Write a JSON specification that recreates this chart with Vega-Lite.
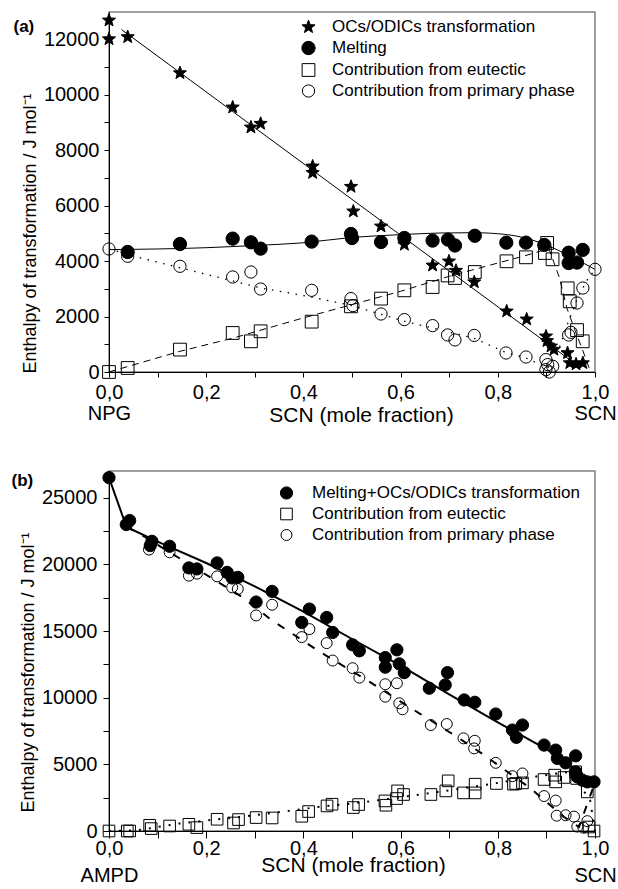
{
  "$schema": "https://vega.github.io/schema/vega-lite/v6.json",
  "background": "white",
  "padding": {"left": 10, "top": 10, "right": 0, "bottom": 0},
  "config": {
    "font": "Liberation Sans",
    "view": {"stroke": "#808080", "strokeWidth": 1.5},
    "axis": {"grid": false, "domainColor": "black", "domainWidth": 1, "tickColor": "black", "tickWidth": 1, "labelColor": "black", "titleColor": "black", "labelFont": "Liberation Sans", "titleFont": "Liberation Sans", "labelFontSize": 20, "titleFontWeight": "normal", "labelFlush": false, "labelOverlap": false, "labelBound": false},
    "legend": {"labelFont": "Liberation Sans", "labelFontSize": 17, "labelColor": "black", "labelLimit": 500, "padding": 0, "rowPadding": 3, "labelOffset": 17, "symbolStrokeWidth": 1}
  },
  "spacing": 42,
  "resolve": {
    "scale": {"x": "independent", "y": "independent", "shape": "independent", "fill": "independent", "stroke": "independent", "size": "independent"},
    "legend": {"shape": "independent", "fill": "independent", "stroke": "independent", "size": "independent"}
  },
  "datasets": {
    "aPts": [
      {"series": "OCs/ODICs transformation", "x": 0, "y": 12675},
      {"series": "OCs/ODICs transformation", "x": 0, "y": 12000},
      {"series": "OCs/ODICs transformation", "x": 0.0385, "y": 12074},
      {"series": "OCs/ODICs transformation", "x": 0.146, "y": 10776},
      {"series": "OCs/ODICs transformation", "x": 0.2545, "y": 9540},
      {"series": "OCs/ODICs transformation", "x": 0.292, "y": 8819},
      {"series": "OCs/ODICs transformation", "x": 0.312, "y": 8952},
      {"series": "OCs/ODICs transformation", "x": 0.419, "y": 7413},
      {"series": "OCs/ODICs transformation", "x": 0.419, "y": 7180},
      {"series": "OCs/ODICs transformation", "x": 0.498, "y": 6680},
      {"series": "OCs/ODICs transformation", "x": 0.5027, "y": 5792},
      {"series": "OCs/ODICs transformation", "x": 0.5597, "y": 5251},
      {"series": "OCs/ODICs transformation", "x": 0.6077, "y": 4591},
      {"series": "OCs/ODICs transformation", "x": 0.6658, "y": 3845},
      {"series": "OCs/ODICs transformation", "x": 0.6995, "y": 3990},
      {"series": "OCs/ODICs transformation", "x": 0.714, "y": 3654},
      {"series": "OCs/ODICs transformation", "x": 0.7516, "y": 3240},
      {"series": "OCs/ODICs transformation", "x": 0.8183, "y": 2188},
      {"series": "OCs/ODICs transformation", "x": 0.8594, "y": 1900},
      {"series": "OCs/ODICs transformation", "x": 0.8992, "y": 1287},
      {"series": "OCs/ODICs transformation", "x": 0.9012, "y": 1120},
      {"series": "OCs/ODICs transformation", "x": 0.9095, "y": 926},
      {"series": "OCs/ODICs transformation", "x": 0.9155, "y": 807},
      {"series": "OCs/ODICs transformation", "x": 0.9435, "y": 685},
      {"series": "OCs/ODICs transformation", "x": 0.9482, "y": 324},
      {"series": "OCs/ODICs transformation", "x": 0.961, "y": 280},
      {"series": "OCs/ODICs transformation", "x": 0.975, "y": 324},
      {"series": "Melting", "x": 0.0384, "y": 4325},
      {"series": "Melting", "x": 0.146, "y": 4613},
      {"series": "Melting", "x": 0.2545, "y": 4807},
      {"series": "Melting", "x": 0.292, "y": 4674},
      {"series": "Melting", "x": 0.312, "y": 4447},
      {"series": "Melting", "x": 0.417, "y": 4700},
      {"series": "Melting", "x": 0.4979, "y": 4974},
      {"series": "Melting", "x": 0.5, "y": 4829},
      {"series": "Melting", "x": 0.5597, "y": 4685},
      {"series": "Melting", "x": 0.6077, "y": 4829},
      {"series": "Melting", "x": 0.6658, "y": 4736},
      {"series": "Melting", "x": 0.6975, "y": 4772},
      {"series": "Melting", "x": 0.7119, "y": 4560},
      {"series": "Melting", "x": 0.7527, "y": 4910},
      {"series": "Melting", "x": 0.8175, "y": 4662},
      {"series": "Melting", "x": 0.858, "y": 4662},
      {"series": "Melting", "x": 0.8956, "y": 4580},
      {"series": "Melting", "x": 0.9458, "y": 4300},
      {"series": "Melting", "x": 0.9747, "y": 4400},
      {"series": "Melting", "x": 0.9458, "y": 3928},
      {"series": "Melting", "x": 0.963, "y": 3945},
      {"series": "Contribution from eutectic", "x": 0, "y": 0},
      {"series": "Contribution from eutectic", "x": 0.0384, "y": 144},
      {"series": "Contribution from eutectic", "x": 0.146, "y": 807},
      {"series": "Contribution from eutectic", "x": 0.2545, "y": 1406},
      {"series": "Contribution from eutectic", "x": 0.292, "y": 1106},
      {"series": "Contribution from eutectic", "x": 0.312, "y": 1467},
      {"series": "Contribution from eutectic", "x": 0.417, "y": 1815},
      {"series": "Contribution from eutectic", "x": 0.498, "y": 2368},
      {"series": "Contribution from eutectic", "x": 0.5597, "y": 2645},
      {"series": "Contribution from eutectic", "x": 0.6077, "y": 2944},
      {"series": "Contribution from eutectic", "x": 0.6658, "y": 3063},
      {"series": "Contribution from eutectic", "x": 0.6967, "y": 3480},
      {"series": "Contribution from eutectic", "x": 0.7119, "y": 3388},
      {"series": "Contribution from eutectic", "x": 0.7527, "y": 3604},
      {"series": "Contribution from eutectic", "x": 0.818, "y": 3990},
      {"series": "Contribution from eutectic", "x": 0.858, "y": 4134},
      {"series": "Contribution from eutectic", "x": 0.9015, "y": 4650},
      {"series": "Contribution from eutectic", "x": 0.897, "y": 4289},
      {"series": "Contribution from eutectic", "x": 0.9126, "y": 4062},
      {"series": "Contribution from eutectic", "x": 0.9438, "y": 3015},
      {"series": "Contribution from eutectic", "x": 0.948, "y": 2548},
      {"series": "Contribution from eutectic", "x": 0.963, "y": 1510},
      {"series": "Contribution from eutectic", "x": 0.9747, "y": 1106},
      {"series": "Contribution from primary phase", "x": 0, "y": 4434},
      {"series": "Contribution from primary phase", "x": 0.0384, "y": 4170},
      {"series": "Contribution from primary phase", "x": 0.146, "y": 3810},
      {"series": "Contribution from primary phase", "x": 0.2545, "y": 3424},
      {"series": "Contribution from primary phase", "x": 0.292, "y": 3604},
      {"series": "Contribution from primary phase", "x": 0.312, "y": 2991},
      {"series": "Contribution from primary phase", "x": 0.417, "y": 2944},
      {"series": "Contribution from primary phase", "x": 0.4979, "y": 2645},
      {"series": "Contribution from primary phase", "x": 0.502, "y": 2393},
      {"series": "Contribution from primary phase", "x": 0.5597, "y": 2090},
      {"series": "Contribution from primary phase", "x": 0.6077, "y": 1889},
      {"series": "Contribution from primary phase", "x": 0.6658, "y": 1672},
      {"series": "Contribution from primary phase", "x": 0.6967, "y": 1335},
      {"series": "Contribution from primary phase", "x": 0.7119, "y": 1155},
      {"series": "Contribution from primary phase", "x": 0.7516, "y": 1318},
      {"series": "Contribution from primary phase", "x": 0.8169, "y": 685},
      {"series": "Contribution from primary phase", "x": 0.858, "y": 541},
      {"series": "Contribution from primary phase", "x": 0.899, "y": 447},
      {"series": "Contribution from primary phase", "x": 0.9027, "y": 267},
      {"series": "Contribution from primary phase", "x": 0.913, "y": 205},
      {"series": "Contribution from primary phase", "x": 0.899, "y": 86},
      {"series": "Contribution from primary phase", "x": 0.906, "y": 0},
      {"series": "Contribution from primary phase", "x": 0.9458, "y": 1335},
      {"series": "Contribution from primary phase", "x": 0.9506, "y": 1431},
      {"series": "Contribution from primary phase", "x": 0.963, "y": 2487},
      {"series": "Contribution from primary phase", "x": 0.975, "y": 3027},
      {"series": "Contribution from primary phase", "x": 1.0, "y": 3700}
    ],
    "aLines": [
      {"s": "oc", "x": 0.026, "y": 12340}, {"s": "oc", "x": 0.971, "y": 144},
      {"s": "m", "x": 0, "y": 4411}, {"s": "m", "x": 0.2, "y": 4480}, {"s": "m", "x": 0.3, "y": 4560}, {"s": "m", "x": 0.395, "y": 4650}, {"s": "m", "x": 0.5, "y": 4850}, {"s": "m", "x": 0.6, "y": 4950}, {"s": "m", "x": 0.683, "y": 5010}, {"s": "m", "x": 0.75, "y": 5020}, {"s": "m", "x": 0.82, "y": 4950}, {"s": "m", "x": 0.889, "y": 4650}, {"s": "m", "x": 0.956, "y": 4110}, {"s": "m", "x": 1.0, "y": 3700},
      {"s": "e", "x": 0, "y": 0}, {"s": "e", "x": 0.146, "y": 746}, {"s": "e", "x": 0.256, "y": 1225}, {"s": "e", "x": 0.4, "y": 1950}, {"s": "e", "x": 0.5, "y": 2430}, {"s": "e", "x": 0.6, "y": 2908}, {"s": "e", "x": 0.7, "y": 3449}, {"s": "e", "x": 0.8, "y": 3928}, {"s": "e", "x": 0.858, "y": 4200}, {"s": "e", "x": 0.905, "y": 4450}, {"s": "e", "x": 0.927, "y": 3390}, {"s": "e", "x": 0.942, "y": 2310}, {"s": "e", "x": 0.96, "y": 1450}, {"s": "e", "x": 0.978, "y": 630}, {"s": "e", "x": 0.988, "y": 140},
      {"s": "p", "x": 0, "y": 4434}, {"s": "p", "x": 0.052, "y": 4170}, {"s": "p", "x": 0.189, "y": 3568}, {"s": "p", "x": 0.313, "y": 3027}, {"s": "p", "x": 0.409, "y": 2728}, {"s": "p", "x": 0.498, "y": 2400}, {"s": "p", "x": 0.608, "y": 1830}, {"s": "p", "x": 0.75, "y": 1225}, {"s": "p", "x": 0.817, "y": 700}, {"s": "p", "x": 0.858, "y": 505}, {"s": "p", "x": 0.903, "y": 144}, {"s": "p", "x": 0.925, "y": 800}, {"s": "p", "x": 0.945, "y": 1800}, {"s": "p", "x": 0.965, "y": 2700}, {"s": "p", "x": 0.985, "y": 3350}, {"s": "p", "x": 1.0, "y": 3690}
    ],
    "bPts": [
      {"series": "Melting+OCs/ODICs transformation", "x": 0, "y": 26500},
      {"series": "Melting+OCs/ODICs transformation", "x": 0.0356, "y": 22985},
      {"series": "Melting+OCs/ODICs transformation", "x": 0.0425, "y": 23286},
      {"series": "Melting+OCs/ODICs transformation", "x": 0.0849, "y": 21406},
      {"series": "Melting+OCs/ODICs transformation", "x": 0.0884, "y": 21730},
      {"series": "Melting+OCs/ODICs transformation", "x": 0.1247, "y": 21354},
      {"series": "Melting+OCs/ODICs transformation", "x": 0.1644, "y": 19730},
      {"series": "Melting+OCs/ODICs transformation", "x": 0.1808, "y": 19655},
      {"series": "Melting+OCs/ODICs transformation", "x": 0.2225, "y": 20106},
      {"series": "Melting+OCs/ODICs transformation", "x": 0.2431, "y": 19399},
      {"series": "Melting+OCs/ODICs transformation", "x": 0.2534, "y": 18977},
      {"series": "Melting+OCs/ODICs transformation", "x": 0.2651, "y": 19024},
      {"series": "Melting+OCs/ODICs transformation", "x": 0.3027, "y": 17173},
      {"series": "Melting+OCs/ODICs transformation", "x": 0.3356, "y": 17971},
      {"series": "Melting+OCs/ODICs transformation", "x": 0.3966, "y": 15640},
      {"series": "Melting+OCs/ODICs transformation", "x": 0.4124, "y": 16646},
      {"series": "Melting+OCs/ODICs transformation", "x": 0.4479, "y": 16015},
      {"series": "Melting+OCs/ODICs transformation", "x": 0.4602, "y": 14888},
      {"series": "Melting+OCs/ODICs transformation", "x": 0.5013, "y": 13963},
      {"series": "Melting+OCs/ODICs transformation", "x": 0.5151, "y": 13512},
      {"series": "Melting+OCs/ODICs transformation", "x": 0.5685, "y": 13008},
      {"series": "Melting+OCs/ODICs transformation", "x": 0.5924, "y": 13587},
      {"series": "Melting+OCs/ODICs transformation", "x": 0.5685, "y": 12286},
      {"series": "Melting+OCs/ODICs transformation", "x": 0.5973, "y": 12534},
      {"series": "Melting+OCs/ODICs transformation", "x": 0.6076, "y": 11880},
      {"series": "Melting+OCs/ODICs transformation", "x": 0.659, "y": 10707},
      {"series": "Melting+OCs/ODICs transformation", "x": 0.6918, "y": 10955},
      {"series": "Melting+OCs/ODICs transformation", "x": 0.6965, "y": 11880},
      {"series": "Melting+OCs/ODICs transformation", "x": 0.7308, "y": 9827},
      {"series": "Melting+OCs/ODICs transformation", "x": 0.7526, "y": 9654},
      {"series": "Melting+OCs/ODICs transformation", "x": 0.7958, "y": 8775},
      {"series": "Melting+OCs/ODICs transformation", "x": 0.8301, "y": 7572},
      {"series": "Melting+OCs/ODICs transformation", "x": 0.8507, "y": 7948},
      {"series": "Melting+OCs/ODICs transformation", "x": 0.8383, "y": 7023},
      {"series": "Melting+OCs/ODICs transformation", "x": 0.8952, "y": 6444},
      {"series": "Melting+OCs/ODICs transformation", "x": 0.9191, "y": 6068},
      {"series": "Melting+OCs/ODICs transformation", "x": 0.9225, "y": 5444},
      {"series": "Melting+OCs/ODICs transformation", "x": 0.9396, "y": 5113},
      {"series": "Melting+OCs/ODICs transformation", "x": 0.9602, "y": 5639},
      {"series": "Melting+OCs/ODICs transformation", "x": 0.96, "y": 4436},
      {"series": "Melting+OCs/ODICs transformation", "x": 0.9636, "y": 4060},
      {"series": "Melting+OCs/ODICs transformation", "x": 0.9739, "y": 3812},
      {"series": "Melting+OCs/ODICs transformation", "x": 0.9842, "y": 3684},
      {"series": "Melting+OCs/ODICs transformation", "x": 0.998, "y": 3684},
      {"series": "Contribution from eutectic", "x": 0, "y": 0},
      {"series": "Contribution from eutectic", "x": 0.0376, "y": 0},
      {"series": "Contribution from eutectic", "x": 0.0425, "y": 0},
      {"series": "Contribution from eutectic", "x": 0.0836, "y": 429},
      {"series": "Contribution from eutectic", "x": 0.0869, "y": 180},
      {"series": "Contribution from eutectic", "x": 0.1247, "y": 376},
      {"series": "Contribution from eutectic", "x": 0.1644, "y": 504},
      {"series": "Contribution from eutectic", "x": 0.1808, "y": 255},
      {"series": "Contribution from eutectic", "x": 0.2225, "y": 880},
      {"series": "Contribution from eutectic", "x": 0.2562, "y": 602},
      {"series": "Contribution from eutectic", "x": 0.2665, "y": 857},
      {"series": "Contribution from eutectic", "x": 0.3027, "y": 1008},
      {"series": "Contribution from eutectic", "x": 0.3356, "y": 978},
      {"series": "Contribution from eutectic", "x": 0.3966, "y": 1105},
      {"series": "Contribution from eutectic", "x": 0.4107, "y": 1460},
      {"series": "Contribution from eutectic", "x": 0.4486, "y": 1880},
      {"series": "Contribution from eutectic", "x": 0.4589, "y": 2008},
      {"series": "Contribution from eutectic", "x": 0.5027, "y": 1760},
      {"series": "Contribution from eutectic", "x": 0.5137, "y": 1985},
      {"series": "Contribution from eutectic", "x": 0.5678, "y": 2256},
      {"series": "Contribution from eutectic", "x": 0.5698, "y": 1932},
      {"series": "Contribution from eutectic", "x": 0.5938, "y": 3008},
      {"series": "Contribution from eutectic", "x": 0.5917, "y": 2436},
      {"series": "Contribution from eutectic", "x": 0.6061, "y": 2737},
      {"series": "Contribution from eutectic", "x": 0.6623, "y": 2737},
      {"series": "Contribution from eutectic", "x": 0.6979, "y": 3760},
      {"series": "Contribution from eutectic", "x": 0.6931, "y": 3008},
      {"series": "Contribution from eutectic", "x": 0.7294, "y": 2857},
      {"series": "Contribution from eutectic", "x": 0.7534, "y": 3511},
      {"series": "Contribution from eutectic", "x": 0.7534, "y": 2857},
      {"series": "Contribution from eutectic", "x": 0.7972, "y": 3564},
      {"series": "Contribution from eutectic", "x": 0.8322, "y": 3511},
      {"series": "Contribution from eutectic", "x": 0.8369, "y": 3564},
      {"series": "Contribution from eutectic", "x": 0.8507, "y": 3609},
      {"series": "Contribution from eutectic", "x": 0.8952, "y": 3865},
      {"series": "Contribution from eutectic", "x": 0.917, "y": 4188},
      {"series": "Contribution from eutectic", "x": 0.9191, "y": 3684},
      {"series": "Contribution from eutectic", "x": 0.9363, "y": 4015},
      {"series": "Contribution from eutectic", "x": 0.9602, "y": 4436},
      {"series": "Contribution from eutectic", "x": 0.9623, "y": 3940},
      {"series": "Contribution from eutectic", "x": 0.9842, "y": 2932},
      {"series": "Contribution from eutectic", "x": 0.9877, "y": 300},
      {"series": "Contribution from eutectic", "x": 0.998, "y": 0},
      {"series": "Contribution from primary phase", "x": 0.0822, "y": 21106},
      {"series": "Contribution from primary phase", "x": 0.1247, "y": 20903},
      {"series": "Contribution from primary phase", "x": 0.1644, "y": 19151},
      {"series": "Contribution from primary phase", "x": 0.1808, "y": 19301},
      {"series": "Contribution from primary phase", "x": 0.2225, "y": 19098},
      {"series": "Contribution from primary phase", "x": 0.2534, "y": 18271},
      {"series": "Contribution from primary phase", "x": 0.265, "y": 18150},
      {"series": "Contribution from primary phase", "x": 0.3027, "y": 16166},
      {"series": "Contribution from primary phase", "x": 0.3356, "y": 16970},
      {"series": "Contribution from primary phase", "x": 0.3966, "y": 14542},
      {"series": "Contribution from primary phase", "x": 0.4124, "y": 15143},
      {"series": "Contribution from primary phase", "x": 0.4479, "y": 14091},
      {"series": "Contribution from primary phase", "x": 0.4602, "y": 12783},
      {"series": "Contribution from primary phase", "x": 0.5013, "y": 12211},
      {"series": "Contribution from primary phase", "x": 0.5151, "y": 11504},
      {"series": "Contribution from primary phase", "x": 0.5685, "y": 11008},
      {"series": "Contribution from primary phase", "x": 0.5924, "y": 11083},
      {"series": "Contribution from primary phase", "x": 0.5685, "y": 10075},
      {"series": "Contribution from primary phase", "x": 0.5973, "y": 9579},
      {"series": "Contribution from primary phase", "x": 0.604, "y": 9128},
      {"series": "Contribution from primary phase", "x": 0.6622, "y": 7948},
      {"series": "Contribution from primary phase", "x": 0.695, "y": 8023},
      {"series": "Contribution from primary phase", "x": 0.7294, "y": 6948},
      {"series": "Contribution from primary phase", "x": 0.7526, "y": 6767},
      {"series": "Contribution from primary phase", "x": 0.7513, "y": 6196},
      {"series": "Contribution from primary phase", "x": 0.7958, "y": 5113},
      {"series": "Contribution from primary phase", "x": 0.8301, "y": 4113},
      {"series": "Contribution from primary phase", "x": 0.8507, "y": 4316},
      {"series": "Contribution from primary phase", "x": 0.8952, "y": 2620},
      {"series": "Contribution from primary phase", "x": 0.9191, "y": 2280},
      {"series": "Contribution from primary phase", "x": 0.9212, "y": 1150},
      {"series": "Contribution from primary phase", "x": 0.9396, "y": 1180},
      {"series": "Contribution from primary phase", "x": 0.9568, "y": 1080},
      {"series": "Contribution from primary phase", "x": 0.9636, "y": 330},
      {"series": "Contribution from primary phase", "x": 0.976, "y": 256},
      {"series": "Contribution from primary phase", "x": 0.9842, "y": 740}
    ],
    "bLines": [
      {"s": "solid", "x": 0, "y": 26500}, {"s": "solid", "x": 0.036, "y": 22800}, {"s": "solid", "x": 0.1, "y": 21700}, {"s": "solid", "x": 0.2, "y": 20100}, {"s": "solid", "x": 0.3, "y": 18350}, {"s": "solid", "x": 0.4, "y": 16450}, {"s": "solid", "x": 0.5, "y": 14400}, {"s": "solid", "x": 0.6, "y": 12400}, {"s": "solid", "x": 0.7, "y": 10250}, {"s": "solid", "x": 0.8, "y": 8150}, {"s": "solid", "x": 0.9, "y": 6150}, {"s": "solid", "x": 0.95, "y": 4850}, {"s": "solid", "x": 1.0, "y": 3600},
      {"s": "dash", "x": 0.036, "y": 22800}, {"s": "dash", "x": 0.066, "y": 22233}, {"s": "dash", "x": 0.272, "y": 17594}, {"s": "dash", "x": 0.3335, "y": 15843}, {"s": "dash", "x": 0.4329, "y": 13459}, {"s": "dash", "x": 0.5356, "y": 11203}, {"s": "dash", "x": 0.6384, "y": 8827}, {"s": "dash", "x": 0.7103, "y": 7196}, {"s": "dash", "x": 0.772, "y": 5692}, {"s": "dash", "x": 0.8677, "y": 3188}, {"s": "dash", "x": 0.9363, "y": 1053}, {"s": "dash", "x": 0.9671, "y": 301}, {"s": "dash", "x": 1.0, "y": 3650},
      {"s": "dot", "x": 0, "y": 0}, {"s": "dot", "x": 0.06, "y": 60}, {"s": "dot", "x": 0.142, "y": 550}, {"s": "dot", "x": 0.203, "y": 800}, {"s": "dot", "x": 0.282, "y": 1100}, {"s": "dot", "x": 0.358, "y": 1450}, {"s": "dot", "x": 0.43, "y": 1800}, {"s": "dot", "x": 0.484, "y": 2000}, {"s": "dot", "x": 0.542, "y": 2250}, {"s": "dot", "x": 0.642, "y": 2740}, {"s": "dot", "x": 0.782, "y": 3500}, {"s": "dot", "x": 0.881, "y": 4100}, {"s": "dot", "x": 0.95, "y": 4450}, {"s": "dot", "x": 0.99, "y": 2300}, {"s": "dot", "x": 1.0, "y": 0}
    ]
  },
  "vconcat": [
    {
      "width": 486,
      "height": 360,
      "resolve": {"axis": {"x": "independent"}},
      "encoding": {
        "y": {"field": "y", "type": "quantitative", "scale": {"domain": [0, 12975], "nice": false, "zero": false},
          "axis": {"values": [0, 1000, 2000, 3000, 4000, 5000, 6000, 7000, 8000, 9000, 10000, 11000, 12000], "labelExpr": "datum.value % 2000 == 0 ? format(datum.value, 'd') : ''", "tickSize": 5, "labelPadding": 5, "title": "Enthalpy of transformation / J mol⁻¹", "titleFontSize": 18, "titleY": 221, "titlePadding": 4}}
      },
      "layer": [
        {"data": {"name": "aLines"}, "transform": [{"filter": "datum.s == 'oc'"}], "mark": {"type": "line", "color": "black", "strokeWidth": 1},
          "encoding": {"x": {"field": "x", "type": "quantitative", "scale": {"domain": [0, 1], "nice": false, "zero": false},
            "axis": {"orient": "top", "domain": false, "ticks": false, "labels": false, "minExtent": 0, "title": "(a)", "titleX": -96, "titleY": 19, "titleAngle": 0, "titleAlign": "left", "titleBaseline": "alphabetic", "titleFontSize": 17, "titleFontWeight": "bold"}}}},
        {"data": {"name": "aLines"}, "transform": [{"filter": "datum.s == 'm'"}], "mark": {"type": "line", "color": "black", "strokeWidth": 1, "interpolate": "monotone"},
          "encoding": {"x": {"field": "x", "type": "quantitative", "scale": {"domain": [0, 1], "nice": false, "zero": false}, "axis": null}}},
        {"data": {"name": "aLines"}, "transform": [{"filter": "datum.s == 'e'"}], "mark": {"type": "line", "color": "black", "strokeWidth": 1, "strokeDash": [7, 5]},
          "encoding": {"x": {"field": "x", "type": "quantitative", "scale": {"domain": [0, 1], "nice": false, "zero": false}, "axis": null}}},
        {"data": {"name": "aLines"}, "transform": [{"filter": "datum.s == 'p'"}], "mark": {"type": "line", "color": "black", "strokeWidth": 1.3, "strokeDash": [1.5, 6.5]},
          "encoding": {"x": {"field": "x", "type": "quantitative", "scale": {"domain": [0, 1], "nice": false, "zero": false}, "axis": null}}},
        {
          "data": {"name": "aPts"},
          "mark": {"type": "point", "opacity": 1, "strokeWidth": 1},
          "encoding": {
            "x": {"field": "x", "type": "quantitative", "scale": {"domain": [0, 1], "nice": false, "zero": false},
              "axis": {"values": [0, 0.1, 0.2, 0.3, 0.4, 0.5, 0.6, 0.7, 0.8, 0.9, 1], "labelExpr": "datum.value == 0 ? ['0,0', 'NPG'] : datum.value == 1 ? ['1,0', 'SCN'] : (round(datum.value * 10) % 2 == 0 ? replace(format(datum.value, '.1f'), '.', ',') : '')", "labelLineHeight": 21, "tickSize": 5, "labelPadding": 5, "title": "SCN (mole fraction)", "titleFontSize": 21, "titleX": 252, "titleY": 49, "titleBaseline": "alphabetic"}},
            "shape": {"field": "series", "type": "nominal", "scale": {"domain": ["OCs/ODICs transformation", "Melting", "Contribution from eutectic", "Contribution from primary phase"], "range": ["M0,-1L0.247,-0.34L0.951,-0.309L0.399,0.13L0.588,0.809L0,0.42L-0.588,0.809L-0.399,0.13L-0.951,-0.309L-0.247,-0.34Z", "circle", "square", "circle"]},
              "legend": {"title": null, "orient": "none", "legendX": 191, "legendY": 6.5, "labelFontSize": 17, "rowPadding": 3, "labelOffset": 15, "labelLimit": 500,
                "encode": {"symbols": {"update": {"size": {"signal": "datum.value === 'Melting' ? 140 : datum.value === 'Contribution from eutectic' ? 62 : datum.value === 'Contribution from primary phase' ? 75 : 115"}}}}}},
            "fill": {"field": "series", "type": "nominal", "scale": {"domain": ["OCs/ODICs transformation", "Melting", "Contribution from eutectic", "Contribution from primary phase"], "range": ["black", "black", "transparent", "transparent"]}},
            "stroke": {"field": "series", "type": "nominal", "scale": {"domain": ["OCs/ODICs transformation", "Melting", "Contribution from eutectic", "Contribution from primary phase"], "range": ["black", "black", "black", "black"]}},
            "size": {"field": "series", "type": "nominal", "scale": {"domain": ["OCs/ODICs transformation", "Melting", "Contribution from eutectic", "Contribution from primary phase"], "range": [190, 150, 115, 170]}}
          }
        }
      ]
    },
    {
      "width": 486,
      "height": 360,
      "resolve": {"axis": {"x": "independent"}},
      "encoding": {
        "y": {"field": "y", "type": "quantitative", "scale": {"domain": [0, 27000], "nice": false, "zero": false},
          "axis": {"values": [0, 2500, 5000, 7500, 10000, 12500, 15000, 17500, 20000, 22500, 25000], "labelExpr": "datum.value % 5000 == 0 ? format(datum.value, 'd') : ''", "tickSize": 6, "labelPadding": 6, "title": "Enthalpy of transformation / J mol⁻¹", "titleFontSize": 18, "titleY": 201, "titlePadding": 4}}
      },
      "layer": [
        {"data": {"name": "bLines"}, "transform": [{"filter": "datum.s == 'solid'"}], "mark": {"type": "line", "color": "black", "strokeWidth": 2},
          "encoding": {"x": {"field": "x", "type": "quantitative", "scale": {"domain": [0, 1], "nice": false, "zero": false},
            "axis": {"orient": "top", "domain": false, "ticks": false, "labels": false, "minExtent": 0, "title": "(b)", "titleX": -98, "titleY": 14, "titleAngle": 0, "titleAlign": "left", "titleBaseline": "alphabetic", "titleFontSize": 17, "titleFontWeight": "bold"}}}},
        {"data": {"name": "bLines"}, "transform": [{"filter": "datum.s == 'dash'"}], "mark": {"type": "line", "color": "black", "strokeWidth": 2, "strokeDash": [8, 10]},
          "encoding": {"x": {"field": "x", "type": "quantitative", "scale": {"domain": [0, 1], "nice": false, "zero": false}, "axis": null}}},
        {"data": {"name": "bLines"}, "transform": [{"filter": "datum.s == 'dot'"}], "mark": {"type": "line", "color": "black", "strokeWidth": 2, "strokeDash": [2, 8]},
          "encoding": {"x": {"field": "x", "type": "quantitative", "scale": {"domain": [0, 1], "nice": false, "zero": false}, "axis": null}}},
        {
          "data": {"name": "bPts"},
          "mark": {"type": "point", "opacity": 1, "strokeWidth": 1},
          "encoding": {
            "x": {"field": "x", "type": "quantitative", "scale": {"domain": [0, 1], "nice": false, "zero": false},
              "axis": {"values": [0, 0.1, 0.2, 0.3, 0.4, 0.5, 0.6, 0.7, 0.8, 0.9, 1], "labelExpr": "datum.value == 0 ? ['0,0', 'AMPD'] : datum.value == 1 ? ['1,0', 'SCN'] : (round(datum.value * 10) % 2 == 0 ? replace(format(datum.value, '.1f'), '.', ',') : '')", "labelLineHeight": 27, "tickSize": 7, "labelPadding": 0, "title": "SCN (mole fraction)", "titleFontSize": 21, "titleX": 244, "titleY": 40, "titleBaseline": "alphabetic"}},
            "shape": {"field": "series", "type": "nominal", "scale": {"domain": ["Melting+OCs/ODICs transformation", "Contribution from eutectic", "Contribution from primary phase"], "range": ["circle", "square", "circle"]},
              "legend": {"title": null, "orient": "none", "legendX": 169, "legendY": 13.5, "labelFontSize": 17, "rowPadding": 3, "labelOffset": 17, "labelLimit": 500,
                "encode": {"symbols": {"update": {"size": {"signal": "datum.value === 'Melting+OCs/ODICs transformation' ? 140 : datum.value === 'Contribution from eutectic' ? 90 : 120"}}}}}},
            "fill": {"field": "series", "type": "nominal", "scale": {"domain": ["Melting+OCs/ODICs transformation", "Contribution from eutectic", "Contribution from primary phase"], "range": ["black", "transparent", "transparent"]}},
            "stroke": {"field": "series", "type": "nominal", "scale": {"domain": ["Melting+OCs/ODICs transformation", "Contribution from eutectic", "Contribution from primary phase"], "range": ["black", "black", "black"]}},
            "size": {"field": "series", "type": "nominal", "scale": {"domain": ["Melting+OCs/ODICs transformation", "Contribution from eutectic", "Contribution from primary phase"], "range": [150, 120, 175]}}
          }
        }
      ]
    }
  ]
}
